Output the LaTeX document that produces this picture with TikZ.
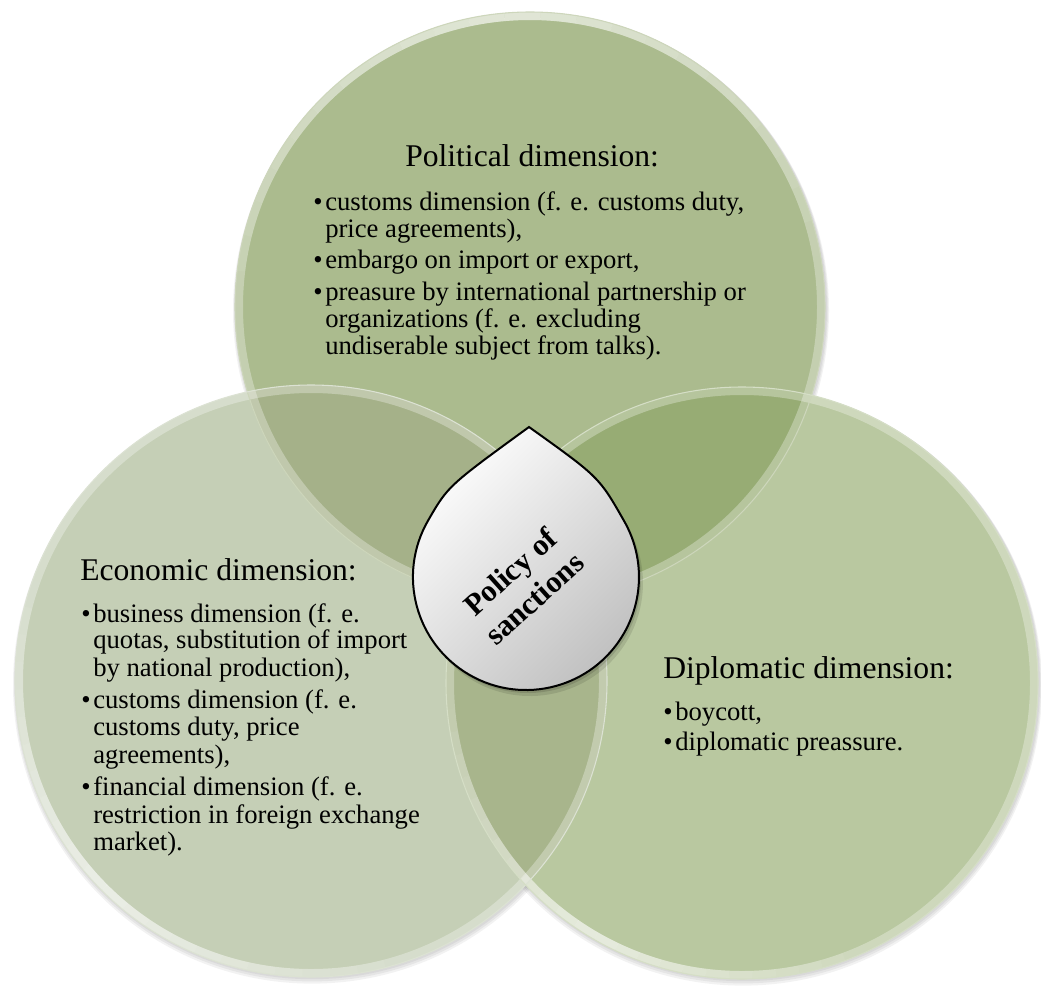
\documentclass[tikz,border=0pt]{standalone}
\usepackage{fontspec}
\setmainfont{Liberation Serif}
\usetikzlibrary{calc}
\definecolor{cT}{RGB}{171,187,142}
\definecolor{cL}{RGB}{197,207,182}
\definecolor{cR}{RGB}{185,200,160}
\definecolor{cTL}{RGB}{165,177,137}
\definecolor{cTR}{RGB}{151,172,116}
\definecolor{cLR}{RGB}{168,181,140}
\definecolor{cTLR}{RGB}{150,165,115}
\newcommand{\myhilite}[4]{%
  \foreach \a in {-12,...,11}{%
    \pgfmathsetmacro\op{0.5*(1-abs(\a+0.5)/12)}%
    \draw[white, line width=6, opacity=\op] ($(#1)+({#3+\a*#4/12}:#2)$) arc[start angle={#3+\a*#4/12}, end angle={#3+(\a+1)*#4/12}, radius=#2];
  }}
\begin{document}
\begin{tikzpicture}[x=0.75pt,y=-0.75pt,
  txt/.style={anchor=base west, inner sep=0pt, font=\fontsize{20}{20}\selectfont},
  bul/.style={anchor=base west, inner sep=0pt, font=\fontsize{20}{20}\selectfont},
  ttl/.style={anchor=base west, inner sep=0pt, font=\fontsize{23.7}{24}\selectfont},
  rim/.style={white, line width=6, opacity=0.3},
  shad/.style={black, opacity=0.05}]
\useasboundingbox (0,0) rectangle (1041,985);
\fill[white] (0,0) rectangle (1041,985);
\coordinate (T) at (530,307);
\coordinate (L) at (311,681);
\coordinate (R) at (742,683);
% soft shadows
\foreach \s in {2,4,6}{
  \fill[shad] ($(T)+(1,\s*0.6)$) circle ({295+\s*0.5});
  \fill[shad] ($(L)+(1,\s*0.6)$) circle ({296+\s*0.5});
  \fill[shad] ($(R)+(1,\s*0.6)$) circle ({296+\s*0.5});
}
% circle fills
\fill[cL] (L) circle (296);
\fill[cR] (R) circle (296);
\fill[cT] (T) circle (295);
\begin{scope}
  \clip (T) circle (295);
  \fill[cTL] (L) circle (296);
  \fill[cTR] (R) circle (296);
\end{scope}
\begin{scope}
  \clip (L) circle (296);
  \fill[cLR] (R) circle (296);
  \clip (R) circle (296);
  \fill[cTLR] (T) circle (295);
\end{scope}
% rims
\draw[rim] (T) circle (291);
\draw[rim] (L) circle (292);
\draw[rim] (R) circle (292);
\myhilite{T}{291}{-95}{85}
\myhilite{L}{292}{135}{65}
\myhilite{R}{292}{120}{55}
\draw[cT!60!white, line width=0.8] (T) circle (295);
\draw[cL!60!white, line width=0.8] (L) circle (296);
\draw[cR!60!white, line width=0.8] (R) circle (296);
% drop shadow
\fill[black, opacity=0.12, shift={(2,3)}] (529,427) .. controls (448,486) .. (428.1,520.5) arc[start angle=-150, end angle=-390, radius=113] .. controls (599,477) .. (529,427) -- cycle;
\fill[black, opacity=0.10, shift={(4,6)}] (529,427) .. controls (448,486) .. (428.1,520.5) arc[start angle=-150, end angle=-390, radius=113] .. controls (599,477) .. (529,427) -- cycle;
% drop
\path[draw=black, line width=1.5, top color=white, bottom color=black!25, shading angle=45] (529,427) .. controls (448,486) .. (428.1,520.5) arc[start angle=-150, end angle=-390, radius=113] .. controls (599,477) .. (529,427) -- cycle;
\node[rotate=42, align=center, inner sep=0pt, font=\bfseries\fontsize{23}{27}\selectfont] (policy) at (522,585) {Policy of\\sanctions};
% Political
\node[ttl] (pt) at (405,166) {Political dimension:};
\node[bul] (pb1) at (313,210) {\textbullet};
\node[txt] (p1) at (325,210) {customs dimension (f. e. customs duty,};
\node[txt] (p2) at (325,237) {price agreements),};
\node[bul] (pb2) at (313,268) {\textbullet};
\node[txt] (p3) at (325,268) {embargo on import or export,};
\node[bul] (pb3) at (313,300) {\textbullet};
\node[txt] (p4) at (325,300) {preasure by international partnership or};
\node[txt] (p5) at (325,327) {organizations (f. e. excluding};
\node[txt] (p6) at (325,354) {undiserable subject from talks).};
% Economic
\node[ttl] (et) at (80,580) {Economic dimension:};
\node[bul] (eb1) at (81,622) {\textbullet};
\node[txt] (e1) at (93,622) {business dimension (f. e.};
\node[txt] (e2) at (93,648) {quotas, substitution of import};
\node[txt] (e3) at (93,676) {by national production),};
\node[bul] (eb2) at (81,708) {\textbullet};
\node[txt] (e4) at (93,708) {customs dimension (f. e.};
\node[txt] (e5) at (93,735) {customs duty, price};
\node[txt] (e6) at (93,763) {agreements),};
\node[bul] (eb3) at (81,795) {\textbullet};
\node[txt] (e7) at (93,795) {financial dimension (f. e.};
\node[txt] (e8) at (93,823) {restriction in foreign exchange};
\node[txt] (e9) at (93,850) {market).};
% Diplomatic
\node[ttl] (dt) at (663,678) {Diplomatic dimension:};
\node[bul] (db1) at (663,720) {\textbullet};
\node[txt] (d1) at (675,720) {boycott,};
\node[bul] (db2) at (663,750) {\textbullet};
\node[txt] (d2) at (675,750) {diplomatic preassure.};
\end{tikzpicture}
\end{document}
